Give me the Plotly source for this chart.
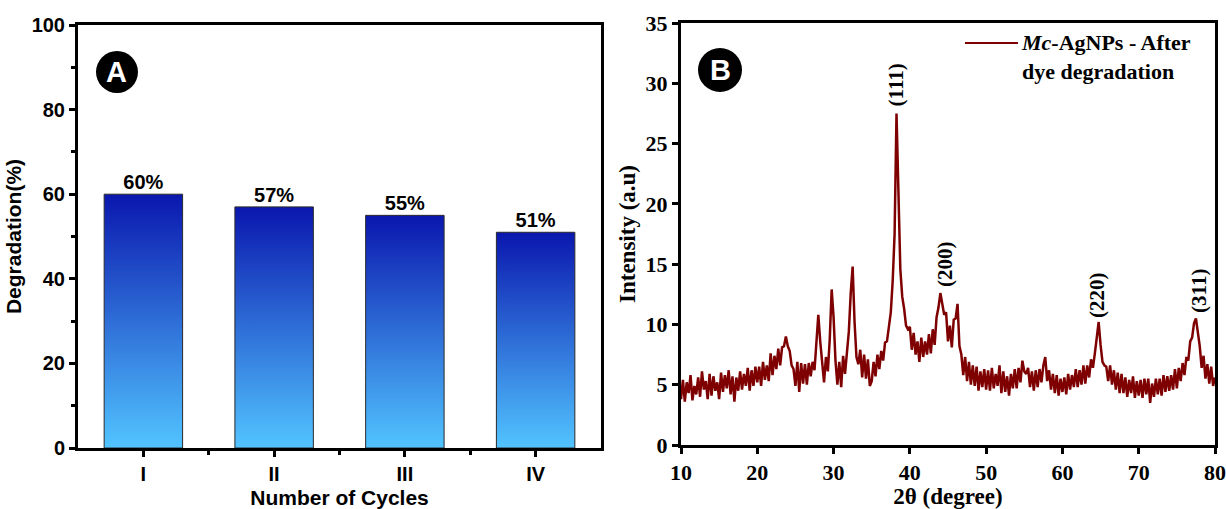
import plotly.graph_objects as go

# ---------------- data ----------------
cycles = ["I", "II", "III", "IV"]
degradation = [60, 57, 55, 51]

two_theta_start = 10.0
two_theta_step = 0.25
intensity = [
    3.8, 5.4, 3.6, 5.2, 4.3, 5.8, 3.7, 4.9,      # 10
    4.2, 5.6, 4.0, 6.1, 4.6, 5.3, 3.8, 5.9,      # 12
    4.1, 5.7, 4.5, 5.2, 3.8, 6.0, 4.4, 5.8,      # 14
    4.7, 6.2, 4.2, 5.7, 3.6, 5.6, 4.5, 6.1,      # 16
    4.6, 5.9, 4.9, 6.4, 4.5, 6.2, 4.9, 6.5,      # 18
    5.2, 6.5, 4.9, 6.9, 5.4, 6.6, 5.3, 7.6,      # 20
    5.8, 7.4, 6.3, 8.0, 6.6, 8.1, 8.2, 9.0,      # 22
    8.2, 7.8, 6.6, 6.3, 4.9, 6.9, 4.4, 6.8,      # 24
    5.1, 6.7, 5.0, 6.8, 5.7, 6.9, 6.2, 8.6,      # 26
    10.8, 8.6, 6.8, 5.2, 7.3, 6.1, 8.8, 12.9,    # 28
    10.6, 7.0, 5.0, 6.9, 4.8, 7.4, 5.9, 7.8,     # 30
    9.4, 12.6, 14.8, 10.2, 7.3, 6.7, 7.9, 5.6,   # 32
    7.5, 5.5, 7.1, 4.9, 5.3, 6.9, 5.7, 7.5,      # 34
    6.3, 7.8, 7.0, 8.5, 8.6, 9.8, 11.0, 13.6,    # 36
    17.5, 27.5, 20.0, 14.6, 12.3, 11.3, 9.9, 9.6,  # 38
    9.8, 7.9, 9.3, 7.5, 8.6, 6.9, 8.9, 7.3,      # 40
    8.6, 7.5, 9.2, 7.6, 9.6, 8.3, 10.6, 11.4,    # 42
    12.6, 11.6, 10.8, 11.0, 8.6, 9.9, 8.1, 10.4, # 44
    10.5, 11.7, 8.2, 7.5, 5.8, 7.3, 5.3, 6.9,    # 46
    5.0, 6.6, 4.9, 6.5, 4.5, 6.1, 4.8, 6.3,      # 48
    4.6, 6.2, 4.5, 6.4, 4.7, 5.9, 4.9, 6.6,      # 50
    4.3, 6.1, 4.4, 5.7, 4.1, 5.9, 4.7, 6.3,      # 52
    4.7, 6.4, 5.2, 7.0, 6.1, 5.9, 6.4, 4.8,      # 54
    6.1, 4.5, 6.2, 4.8, 6.3, 5.2, 6.6, 7.3,      # 56
    5.3, 6.2, 4.6, 5.9, 4.3, 5.8, 4.1, 5.5,      # 58
    4.4, 5.6, 4.2, 5.9, 4.6, 5.8, 4.8, 6.3,      # 60
    4.8, 6.2, 5.0, 6.6, 5.1, 6.6, 5.6, 7.1,      # 62
    6.4, 7.6, 8.9, 10.2, 8.3, 6.9, 6.6, 6.5,     # 64
    5.3, 6.6, 5.0, 6.2, 4.6, 6.0, 4.3, 5.9,      # 66
    4.3, 5.6, 4.0, 5.4, 4.3, 5.7, 3.9, 5.3,      # 68
    4.1, 5.4, 3.9, 5.5, 4.2, 5.5, 3.5, 5.1,      # 70
    4.0, 5.5, 4.2, 5.5, 4.1, 5.8, 4.4, 5.7,      # 72
    4.5, 5.8, 4.6, 6.3, 4.7, 6.4, 5.3, 6.8,      # 74
    5.8, 7.3, 7.0, 8.6, 8.9, 10.1, 10.5, 9.5,    # 76
    8.2, 6.4, 7.4, 5.5, 6.7, 5.1, 6.5, 4.9,      # 78
    5.6,                                         # 80
]
two_theta = [two_theta_start + two_theta_step * i for i in range(len(intensity))]

peak_labels = ["(111)", "(200)", "(220)", "(311)"]
peak_label_x = [38.3, 44.6, 64.6, 77.8]
peak_label_y = [29.9, 15.0, 12.4, 12.8]

series_name = "<i>Mc</i>-AgNPs - After<br>dye degradation"

# ---------------- styling ----------------
W, H = 1226, 509
def px(x):
    return x / W
def py(y):
    return 1 - y / H

SANS = "Liberation Sans"
SERIF = "Liberation Serif"
light = "#52C4FF"
dark = "#0A17AE"
xrd_color = "#7E0000"
bar_half = 0.3

fig = go.Figure()

# gradient bars (panel A)
for i, v in enumerate(degradation):
    x0, x1 = i - bar_half, i + bar_half
    fig.add_trace(go.Scatter(
        x=[x0, x0, x1, x1, x0], y=[0, v, v, 0, 0],
        fill="toself", mode="lines",
        line=dict(color="#2a2a2a", width=1),
        fillgradient=dict(type="vertical", colorscale=[[0, light], [1, dark]],
                          start=0, stop=v),
        xaxis="x", yaxis="y", showlegend=False, hoverinfo="skip",
    ))

fig.add_trace(go.Scatter(
    x=list(range(len(cycles))), y=degradation, mode="text",
    text=[f"<b>{v}%</b>" for v in degradation], textposition="top center",
    textfont=dict(family=SANS, size=20, color="black"),
    xaxis="x", yaxis="y", showlegend=False, hoverinfo="skip",
))

# XRD pattern (panel B)
fig.add_trace(go.Scatter(
    x=two_theta, y=intensity, mode="lines",
    line=dict(color=xrd_color, width=2.5),
    xaxis="x2", yaxis="y2", showlegend=False, name="Mc-AgNPs - After dye degradation",
))

axis_common = dict(showline=True, linewidth=3, linecolor="black", mirror=True,
                   ticks="outside", tickwidth=3, tickcolor="black",
                   showgrid=False, zeroline=False, automargin=False)

fig.update_layout(
    width=W, height=H,
    margin=dict(l=0, r=0, t=0, b=0, autoexpand=False),
    paper_bgcolor="white", plot_bgcolor="white",
    xaxis=dict(domain=[px(78), px(601)], range=[-0.5, 3.5],
               tickmode="array", tickvals=list(range(len(cycles))), ticktext=cycles,
               ticklen=6,
               minor=dict(tickmode="array", tickvals=[0.5, 1.5, 2.5], ticks="outside",
                          ticklen=4, tickwidth=3, tickcolor="black"),
               tickfont=dict(family=SANS, size=20, color="black", weight="bold"),
               title=dict(text="<b>Number of Cycles</b>", standoff=9,
                          font=dict(family=SANS, size=21, color="black")),
               anchor="y", **axis_common),
    yaxis=dict(domain=[py(448), py(25)], range=[0, 100], dtick=20, ticklen=6,
               minor=dict(dtick=10, ticks="outside", ticklen=4, tickwidth=3, tickcolor="black"),
               tickfont=dict(family=SANS, size=20, color="black", weight="bold"),
               title=dict(text="<b>Degradation(%)</b>", standoff=5,
                          font=dict(family=SANS, size=21, color="black")),
               anchor="x", **axis_common),
    xaxis2=dict(domain=[px(681), px(1215)], range=[10, 80], dtick=10, ticklen=6,
                tickfont=dict(family=SERIF, size=22, color="black", weight="bold"),
                title=dict(text="<b>2θ (degree)</b>", standoff=2,
                           font=dict(family=SERIF, size=23, color="black")),
                anchor="y2", **axis_common),
    yaxis2=dict(domain=[py(445), py(23)], range=[0, 35], dtick=5, ticklen=6,
                tickfont=dict(family=SERIF, size=22, color="black", weight="bold"),
                title=dict(text="<b>Intensity (a.u)</b>", standoff=4,
                           font=dict(family=SERIF, size=23, color="black")),
                anchor="x2", **axis_common),
)

shapes = [
    dict(type="circle", xref="paper", yref="paper",
         x0=px(96), x1=px(138), y0=py(93), y1=py(51), fillcolor="black", line=dict(width=0)),
    dict(type="circle", xref="paper", yref="paper",
         x0=px(698), x1=px(742), y0=py(92), y1=py(48), fillcolor="black", line=dict(width=0)),
    dict(type="line", xref="paper", yref="paper",
         x0=px(965), x1=px(1018), y0=py(43), y1=py(43), line=dict(color=xrd_color, width=2)),
]
annotations = [
    dict(text="<b>A</b>", xref="paper", yref="paper", x=px(117), y=py(72),
         xanchor="center", yanchor="middle",
         showarrow=False, font=dict(family=SANS, size=29, color="white")),
    dict(text="<b>B</b>", xref="paper", yref="paper", x=px(720), y=py(70),
         xanchor="center", yanchor="middle",
         showarrow=False, font=dict(family=SANS, size=29, color="white")),
    dict(text="<b>" + series_name + "</b>", xref="paper", yref="paper",
         x=px(1019), y=py(28), xanchor="left", yanchor="top", align="left",
         showarrow=False, font=dict(family=SERIF, size=22, color="black")),
]
for lab, lx, ly in zip(peak_labels, peak_label_x, peak_label_y):
    annotations.append(dict(text=f"<b>{lab}</b>", xref="x2", yref="y2", x=lx, y=ly,
                            xanchor="center", yanchor="middle",
                            textangle=-90, showarrow=False,
                            font=dict(family=SERIF, size=21, color="black")))

fig.update_layout(shapes=shapes, annotations=annotations)
fig.write_html("out.html")
